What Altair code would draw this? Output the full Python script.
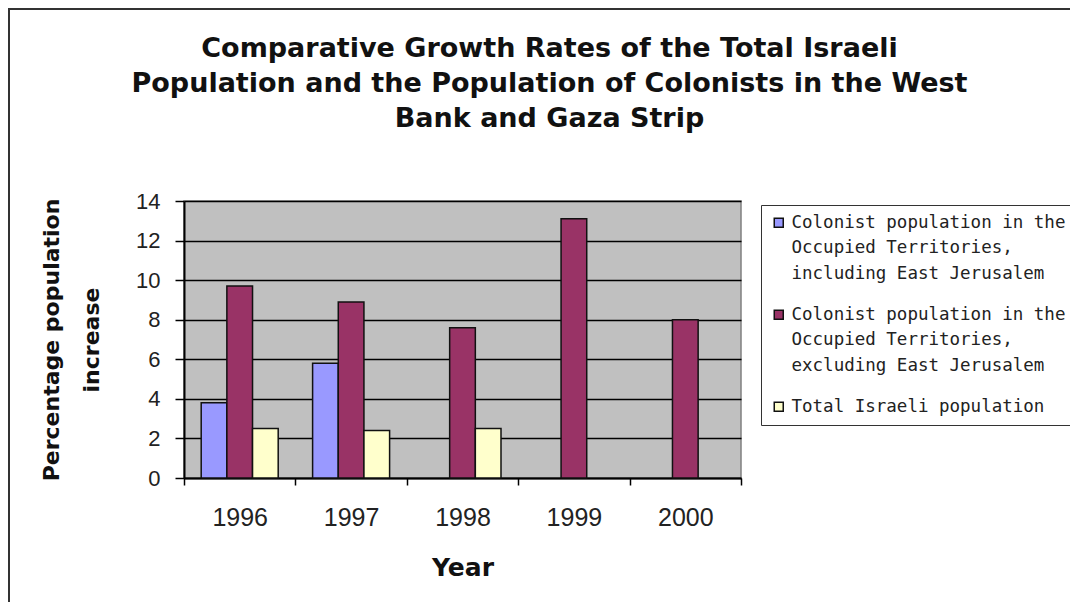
import altair as alt
import pandas as pd

YEARS = ["1996", "1997", "1998", "1999", "2000"]
LABEL_LINES = [
    ["Colonist population in the", "Occupied Territories,", "including East Jerusalem"],
    ["Colonist population in the", "Occupied Territories,", "excluding East Jerusalem"],
    ["Total Israeli population"],
]
SERIES = [" ".join(l) for l in LABEL_LINES]
INCL_EJ = [3.8, 5.8, None, None, None]
EXCL_EJ = [9.7, 8.9, 7.6, 13.1, 8.0]
TOTAL_ISR = [2.5, 2.4, 2.5, None, None]
COLORS = ["#9999FF", "#993366", "#FFFFCC"]

rows = []
for s, vals in zip(SERIES, [INCL_EJ, EXCL_EJ, TOTAL_ISR]):
    for y, v in zip(YEARS, vals):
        if v is not None:
            rows.append({"year": y, "series": s, "value": v})
df = pd.DataFrame(rows)

label_expr = " : ".join(
    f"datum.label == '{s}' ? {lines!r}" for s, lines in zip(SERIES, LABEL_LINES)
) + " : datum.label"

W, H = 557, 277

bars = alt.Chart(df).mark_bar(stroke="#111", strokeWidth=1.5).encode(
    x=alt.X("year:N", sort=YEARS, title="Year",
            scale=alt.Scale(paddingInner=0, paddingOuter=0),
            axis=alt.Axis(labelAngle=0, labelFontSize=25, labelPadding=20,
                          tickSize=7, tickBand="extent", titleFontSize=25,
                          titlePadding=25, grid=False)),
    xOffset=alt.XOffset("series:N", sort=SERIES,
                        scale=alt.Scale(domain=SERIES, paddingInner=0, paddingOuter=0.67)),
    y=alt.Y("value:Q", title=["Percentage population", "increase"],
            scale=alt.Scale(domain=[0, 14]),
            axis=alt.Axis(values=list(range(0, 15, 2)), labelFontSize=22,
                          labelPadding=15, tickSize=9, titleFontSize=22,
                          titleLineHeight=40, titlePadding=32)),
    color=alt.Color("series:N", sort=SERIES,
                    scale=alt.Scale(domain=SERIES, range=COLORS),
                    legend=alt.Legend(title=None, orient="none", legendX=577, legendY=4,
                                      labelExpr=label_expr, labelFont="DejaVu Sans Mono",
                                      labelFontSize=17.5, labelColor="#222", labelOffset=4,
                                      symbolType="square", symbolSize=81,
                                      symbolStrokeColor="#111", symbolStrokeWidth=1.5,
                                      fillColor="white", strokeColor="#333",
                                      padding=9, rowPadding=22, labelLimit=500)),
)

frame = alt.Chart(pd.DataFrame({"a": [0]})).mark_rect(
    fill=None, stroke="#333", strokeWidth=2
).encode(
    x=alt.value(-175), x2=alt.value(W + 500),
    y=alt.value(-192), y2=alt.value(H + 300),
)

chart = alt.layer(bars, frame).properties(
    width=W, height=H,
    title=alt.TitleParams(
        ["Comparative Growth Rates of the Total Israeli",
         "Population and the Population of Colonists in the West",
         "Bank and Gaza Strip"],
        fontSize=27, font="DejaVu Sans", fontWeight="bold", color="#111",
        lineHeight=35, anchor="middle", frame="group", baseline="top",
        offset=-125, dx=87),
    autosize=alt.AutoSizeParams(type="none"),
    padding={"left": 176, "top": 193, "right": 329, "bottom": 124},
).configure(
    font="Liberation Sans",
    style={"guide-label": {"lineHeight": 25.5}},
).configure_view(
    fill="#C0C0C0", stroke="#808080", strokeWidth=1.5,
).configure_axis(
    domainColor="#000", domainWidth=2, tickColor="#000", tickWidth=1.5,
    gridColor="#000", gridWidth=1.5, labelColor="#222", titleColor="#111",
    labelFont="Liberation Sans", titleFont="DejaVu Sans", titleFontWeight="bold",
)

chart.save("out.html", embed_options={"renderer": "svg", "actions": False})
